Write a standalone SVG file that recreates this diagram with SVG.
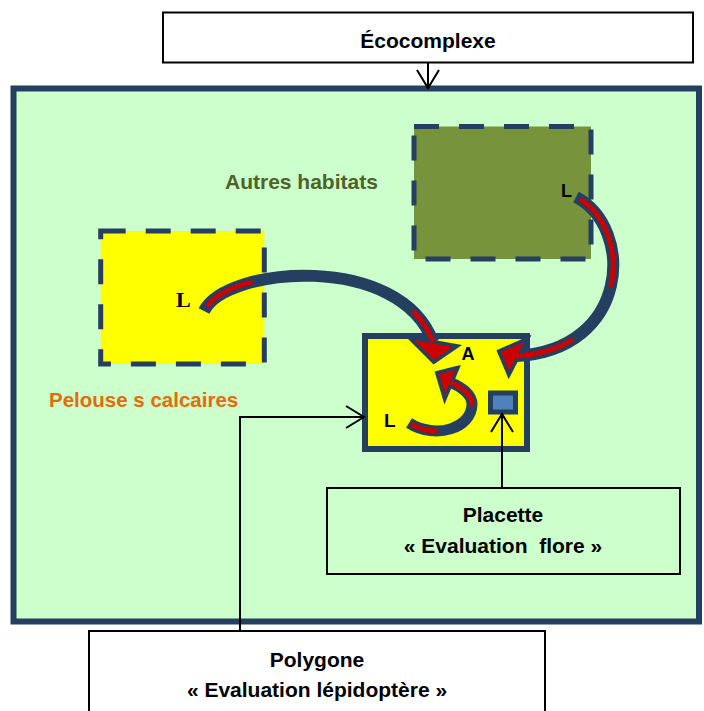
<svg xmlns="http://www.w3.org/2000/svg" width="704" height="711" viewBox="0 0 704 711">
<defs>
<marker id="vhead" viewBox="0 0 20 24" refX="19" refY="12" markerWidth="20" markerHeight="24" markerUnits="userSpaceOnUse" orient="auto" overflow="visible">
<path d="M1,1 L19,12 L1,23" fill="none" stroke="#000" stroke-width="2"/>
</marker>
</defs>
<style>
.box{fill:#fff;stroke:#000;stroke-width:2}
.lbl{font-family:"Liberation Sans",Arial,sans-serif;font-weight:bold;font-size:21px;fill:#000;text-anchor:middle}
.dash{stroke:#243F60;stroke-width:5;stroke-dasharray:25 20}
.shaft{fill:none;stroke:#243F60;stroke-width:12}
.red{fill:none;stroke:#CC0000;stroke-width:5}
.head{fill:#CC0000;stroke:#243F60;stroke-width:7;stroke-linejoin:miter;paint-order:stroke}
.conn{fill:none;stroke:#000;stroke-width:2}
.let{font-family:"Liberation Sans",Arial,sans-serif;font-weight:bold;fill:#000}
</style>
<rect width="704" height="711" fill="#fff"/>
<g id="ecocomplexe-frame">
<rect x="13.5" y="88.5" width="685.5" height="533" fill="#CCFFCC" stroke="#243F60" stroke-width="6"/>
</g>
<g id="autres-habitats">
<rect x="414" y="126.5" width="177" height="132.5" fill="#77933C" class="dash"/>
<text x="225" y="189" class="let" font-size="21" fill="#4F6228" style="fill:#4F6228">Autres habitats</text>
<text x="561" y="197" class="let" font-size="18">L</text>
</g>
<g id="pelouses">
<rect x="100.7" y="231" width="163.6" height="133" fill="#FFFF00" class="dash"/>
<text x="49" y="407" class="let" font-size="20.5" style="fill:#E36C09">Pelouse s calcaires</text>
<text x="176" y="307" font-family="Liberation Serif,Times New Roman,serif" font-weight="bold" font-size="22" fill="#000">L</text>
</g>
<g id="site">
<rect x="365" y="336" width="162" height="113" fill="#FFFF00" stroke="#243F60" stroke-width="6"/>
<text x="468" y="360" class="let" font-size="18" text-anchor="middle">A</text>
<text x="384" y="427" class="let" font-size="19">L</text>
</g>
<g id="placette-square">
<rect x="490.5" y="393" width="25" height="19" fill="#4F81BD" stroke="#243F60" stroke-width="5"/>
</g>
<g id="connectors">
<path id="arrow-pelouse" class="shaft" d="M204,311 C226,266 400,252 433,342"/>
<polygon class="head" points="414,340 434,360 453,347"/>
<path class="red" pathLength="100" stroke-dasharray="0 2 20 64 14 100" d="M204,311 C226,266 400,252 433,342"/>
<path id="arrow-autres" class="shaft" d="M576,197 C635,228 630,350 516,356"/>
<polygon class="head" points="524,342 501,352 509,371"/>
<path class="red" pathLength="100" stroke-dasharray="0 2 43 29 26 100" d="M576,197 C635,228 630,350 516,356"/>
<path id="arrow-local" class="shaft" style="stroke-width:11" d="M409,423 C436,440 472,428 472,404 C472,395 462,387 450.5,382.5"/>
<polygon class="head" points="455,370 439,374 445,394"/>
<path class="red" pathLength="100" stroke-dasharray="0 2 25 42 31 100" d="M409,423 C436,440 472,428 472,404 C472,395 462,387 450.5,382.5"/>
<line class="conn" x1="428" y1="63" x2="428" y2="88" marker-end="url(#vhead)"/>
<line class="conn" x1="502" y1="488" x2="502" y2="414" marker-end="url(#vhead)"/>
<path class="conn" d="M240,631 V417 H364" marker-end="url(#vhead)"/>
</g>
<g id="ecocomplexe">
<rect x="163" y="12.5" width="530" height="50" class="box"/>
<text x="428" y="48" class="lbl">Écocomplexe</text>
</g>
<g id="placette">
<rect x="327" y="488" width="353" height="86" class="box" style="fill:none"/>
<text x="503" y="522" class="lbl">Placette</text>
<text x="503" y="553" class="lbl" xml:space="preserve">« Evaluation  flore »</text>
</g>
<g id="polygone">
<rect x="89" y="631" width="456" height="90" class="box"/>
<text x="317" y="667" class="lbl">Polygone</text>
<text x="317" y="697" class="lbl">« Evaluation lépidoptère »</text>
</g>
</svg>
